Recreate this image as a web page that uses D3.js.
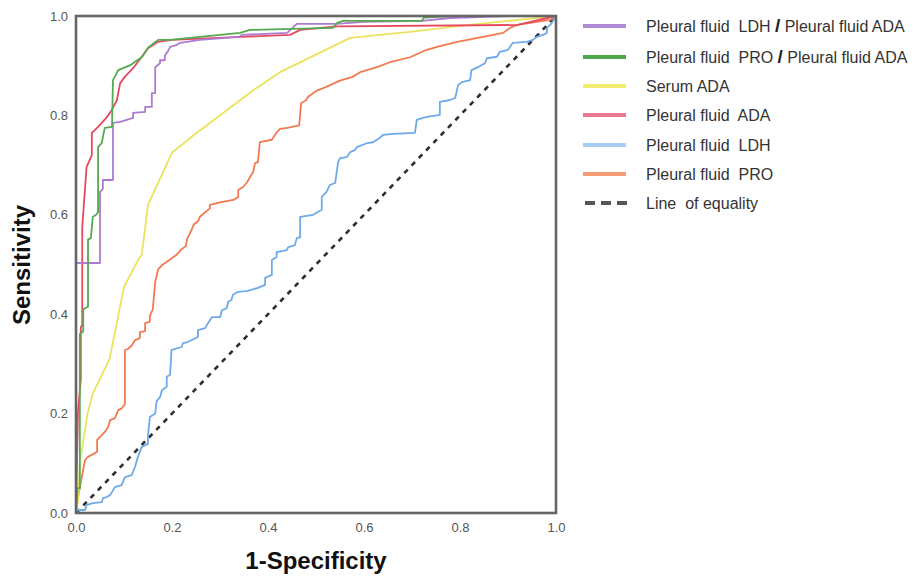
<!DOCTYPE html>
<html>
<head>
<meta charset="utf-8">
<script src="https://cdn.jsdelivr.net/npm/d3@7"></script>
<style>
  html, body { margin: 0; padding: 0; background: #fff; }
  svg { display: block; }
</style>
</head>
<body>
<svg id="chart" width="917" height="576"></svg>
<script>
// ---------- data ----------
const seriesNames = [
  "Pleural fluid  LDH / Pleural fluid ADA",
  "Pleural fluid  PRO / Pleural fluid ADA",
  "Serum ADA",
  "Pleural fluid  ADA",
  "Pleural fluid  LDH",
  "Pleural fluid  PRO"
];
const refName = "Line  of equality";

const tickValues = [0, 0.2, 0.4, 0.6, 0.8, 1.0];

// each: [1-specificity, sensitivity]
const ldhAdaRoc = [[0,0],[0,0.2],[0,0.503],[0.029,0.503],[0.05,0.503],[0.05,0.646],[0.056,0.652],[0.056,0.67],[0.077,0.67],[0.077,0.785],[0.092,0.787],[0.119,0.795],[0.119,0.805],[0.144,0.807],[0.144,0.817],[0.158,0.817],[0.158,0.845],[0.165,0.845],[0.165,0.897],[0.175,0.905],[0.175,0.911],[0.185,0.911],[0.185,0.92],[0.192,0.93],[0.196,0.938],[0.21,0.942],[0.217,0.946],[0.258,0.952],[0.34,0.958],[0.345,0.962],[0.44,0.966],[0.46,0.984],[0.543,0.984],[0.6,0.988],[0.72,0.99],[0.78,0.996],[0.9,1],[1,1]];
const proAdaRoc = [[0,0],[0.003,0.05],[0.008,0.05],[0.008,0.36],[0.015,0.365],[0.015,0.41],[0.025,0.415],[0.025,0.55],[0.031,0.553],[0.035,0.596],[0.042,0.6],[0.046,0.605],[0.046,0.736],[0.054,0.745],[0.056,0.757],[0.06,0.775],[0.075,0.777],[0.077,0.871],[0.088,0.891],[0.113,0.901],[0.138,0.918],[0.15,0.936],[0.171,0.952],[0.196,0.952],[0.2375,0.956],[0.342,0.966],[0.362,0.972],[0.45,0.974],[0.535,0.976],[0.544,0.986],[0.556,0.99],[0.72,0.99],[0.725,0.997],[0.78,1],[1,1]];
const serumAdaRoc = [[0,0],[0.005,0.03],[0.008,0.1],[0.024,0.2],[0.035,0.24],[0.05,0.27],[0.07,0.31],[0.1,0.455],[0.13,0.51],[0.137,0.52],[0.15,0.62],[0.2,0.725],[0.245,0.76],[0.37,0.851],[0.425,0.887],[0.571,0.956],[0.696,0.968],[0.8,0.98],[0.9,0.99],[1,1]];
const pfAdaRoc = [[0,0],[0.004,0.2],[0.01,0.27],[0.01,0.374],[0.013,0.378],[0.013,0.575],[0.022,0.696],[0.033,0.72],[0.033,0.765],[0.046,0.777],[0.063,0.795],[0.074,0.81],[0.085,0.83],[0.092,0.865],[0.102,0.878],[0.119,0.895],[0.137,0.918],[0.15,0.935],[0.171,0.948],[0.2,0.952],[0.342,0.958],[0.446,0.962],[0.467,0.972],[0.543,0.979],[0.92,0.982],[1,1]];
const pfLdhRoc = [[0,0],[0.001,0.006],[0.019,0.006],[0.022,0.016],[0.035,0.02],[0.054,0.022],[0.056,0.03],[0.064,0.032],[0.071,0.036],[0.081,0.052],[0.095,0.056],[0.102,0.072],[0.116,0.076],[0.123,0.093],[0.129,0.113],[0.137,0.133],[0.15,0.139],[0.15,0.157],[0.154,0.193],[0.165,0.2],[0.168,0.225],[0.175,0.233],[0.179,0.247],[0.189,0.254],[0.189,0.274],[0.196,0.278],[0.199,0.328],[0.22,0.334],[0.223,0.342],[0.233,0.344],[0.254,0.354],[0.254,0.368],[0.269,0.372],[0.275,0.382],[0.283,0.394],[0.3,0.394],[0.304,0.408],[0.314,0.412],[0.317,0.425],[0.324,0.429],[0.327,0.439],[0.3375,0.445],[0.358,0.447],[0.379,0.453],[0.394,0.459],[0.394,0.473],[0.408,0.479],[0.408,0.509],[0.418,0.515],[0.418,0.525],[0.439,0.529],[0.442,0.535],[0.456,0.539],[0.46,0.553],[0.467,0.555],[0.467,0.596],[0.494,0.6],[0.512,0.61],[0.512,0.636],[0.522,0.646],[0.529,0.66],[0.54,0.664],[0.546,0.706],[0.55,0.714],[0.564,0.716],[0.571,0.726],[0.581,0.73],[0.585,0.736],[0.606,0.744],[0.619,0.746],[0.633,0.755],[0.64,0.761],[0.66,0.763],[0.706,0.765],[0.71,0.791],[0.723,0.795],[0.731,0.797],[0.758,0.801],[0.758,0.827],[0.779,0.831],[0.79,0.835],[0.796,0.861],[0.804,0.867],[0.821,0.871],[0.824,0.891],[0.8375,0.897],[0.852,0.905],[0.856,0.915],[0.877,0.918],[0.883,0.928],[0.9,0.932],[0.91,0.946],[0.939,0.948],[0.952,0.952],[0.96,0.958],[0.973,0.962],[0.981,0.966],[0.981,0.976],[0.988,0.982],[0.998,0.996],[1,1]];
const pfProRoc = [[0,0],[0.004,0.03],[0.012,0.072],[0.019,0.107],[0.025,0.113],[0.044,0.123],[0.044,0.147],[0.06,0.163],[0.067,0.173],[0.071,0.187],[0.081,0.191],[0.088,0.207],[0.096,0.211],[0.102,0.22],[0.102,0.328],[0.108,0.33],[0.117,0.338],[0.123,0.348],[0.133,0.352],[0.133,0.364],[0.144,0.366],[0.144,0.382],[0.154,0.385],[0.154,0.396],[0.16,0.41],[0.165,0.465],[0.171,0.49],[0.181,0.5],[0.196,0.51],[0.21,0.52],[0.219,0.53],[0.229,0.537],[0.231,0.55],[0.241,0.57],[0.245,0.58],[0.255,0.588],[0.258,0.596],[0.279,0.613],[0.279,0.62],[0.3,0.625],[0.328,0.63],[0.338,0.636],[0.338,0.65],[0.348,0.656],[0.356,0.665],[0.369,0.686],[0.373,0.704],[0.379,0.706],[0.383,0.746],[0.408,0.751],[0.419,0.767],[0.425,0.773],[0.44,0.775],[0.465,0.78],[0.469,0.825],[0.479,0.83],[0.483,0.837],[0.502,0.85],[0.52,0.857],[0.55,0.87],[0.575,0.877],[0.592,0.887],[0.627,0.897],[0.654,0.907],[0.696,0.917],[0.731,0.932],[0.752,0.938],[0.794,0.948],[0.848,0.958],[0.89,0.966],[0.904,0.976],[0.919,0.982],[0.96,0.988],[0.988,0.992],[1,1]];
const equalityLine = [[0,0],[1,1]];

const seriesData = [ldhAdaRoc, proAdaRoc, serumAdaRoc, pfAdaRoc, pfLdhRoc, pfProRoc];
const lineColors   = ["#ad7bd0", "#55aa50", "#ebe25e", "#e6495f", "#6eaae8", "#f27a52"];
const legendColors = ["#b18ad6", "#4da84b", "#f2ec73", "#ea7890", "#a9ccf2", "#f59c76"];
const drawOrder = [5, 4, 2, 3, 0, 1];

// ---------- layout ----------
const svg = d3.select("#chart");
const plotL = 76, plotR = 556, plotT = 16, plotB = 513;
const x = d3.scaleLinear().domain([0, 1]).range([plotL, plotR]);
const y = d3.scaleLinear().domain([0, 1]).range([plotB, plotT]);
const font = "'Liberation Sans', Arial, Helvetica, sans-serif";

const line = d3.line().x(d => x(d[0])).y(d => y(d[1]));

// reference diagonal
svg.append("path")
  .datum(equalityLine)
  .attr("d", line)
  .attr("fill", "none")
  .attr("stroke", "#2e2e2e")
  .attr("stroke-width", 2.6)
  .attr("stroke-dasharray", "5,5.5");

// curves
drawOrder.forEach(i => {
  svg.append("path")
    .datum(seriesData[i])
    .attr("d", line)
    .attr("fill", "none")
    .attr("stroke", lineColors[i])
    .attr("stroke-width", 1.8)
    .attr("stroke-linejoin", "round");
});

// frame
svg.append("rect")
  .attr("x", plotL).attr("y", plotT)
  .attr("width", plotR - plotL).attr("height", plotB - plotT)
  .attr("fill", "none")
  .attr("stroke", "#666")
  .attr("stroke-width", 2.6);

// axes (labels only)
const xAxis = d3.axisBottom(x).tickValues(tickValues).tickFormat(d3.format(".1f")).tickSize(0).tickPadding(10);
const yAxis = d3.axisLeft(y).tickValues(tickValues).tickFormat(d3.format(".1f")).tickSize(0).tickPadding(8);

const gx = svg.append("g").attr("transform", `translate(0,${plotB})`).call(xAxis);
const gy = svg.append("g").attr("transform", `translate(${plotL},0)`).call(yAxis);
[gx, gy].forEach(g => {
  g.select(".domain").remove();
  g.selectAll("text")
    .attr("font-family", font)
    .attr("font-size", 13)
    .attr("fill", "#555");
});

// axis titles
svg.append("text")
  .attr("x", 316).attr("y", 569)
  .attr("text-anchor", "middle")
  .attr("font-family", font)
  .attr("font-weight", "bold")
  .attr("font-size", 24)
  .attr("fill", "#111")
  .text("1-Specificity");

svg.append("text")
  .attr("transform", "translate(30,265) rotate(-90)")
  .attr("text-anchor", "middle")
  .attr("font-family", font)
  .attr("font-weight", "bold")
  .attr("font-size", 24)
  .attr("fill", "#111")
  .text("Sensitivity");

// legend
const legendRowsY = [26, 57, 86, 115, 145, 174, 203];
const lg = svg.append("g");
seriesNames.forEach((name, i) => {
  const rowY = legendRowsY[i];
  lg.append("line")
    .attr("x1", 583).attr("x2", 626)
    .attr("y1", rowY).attr("y2", rowY)
    .attr("stroke", legendColors[i])
    .attr("stroke-width", 4);
  const t = lg.append("text")
    .attr("x", 646).attr("y", rowY + 6)
    .attr("font-family", font)
    .attr("font-size", 16)
    .attr("fill", "#333")
    .style("white-space", "pre");
  const parts = name.split(" / ");
  if (parts.length === 2) {
    t.append("tspan").text(parts[0] + " ");
    t.append("tspan").attr("font-weight", "bold").attr("font-size", 19).attr("fill", "#222").text("/");
    t.append("tspan").text(" " + parts[1]);
  } else {
    t.text(name);
  }
});
// line of equality legend
const refRowY = legendRowsY[6];
lg.append("line")
  .attr("x1", 585).attr("x2", 628)
  .attr("y1", refRowY).attr("y2", refRowY)
  .attr("stroke", "#555")
  .attr("stroke-width", 4)
  .attr("stroke-dasharray", "10,6");
lg.append("text")
  .attr("x", 646).attr("y", refRowY + 6)
  .attr("font-family", font)
  .attr("font-size", 16)
  .attr("fill", "#333")
  .style("white-space", "pre")
  .text(refName);
</script>
</body>
</html>
